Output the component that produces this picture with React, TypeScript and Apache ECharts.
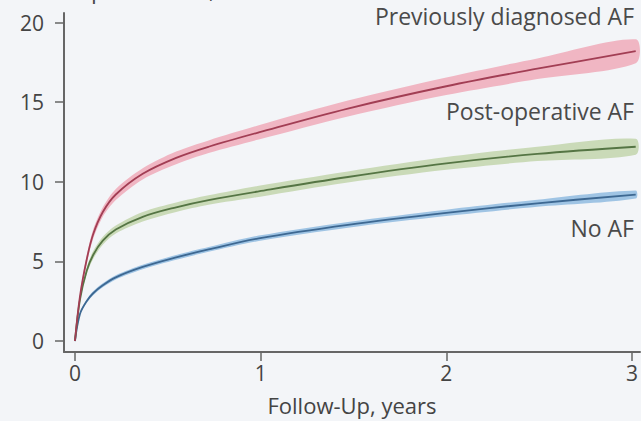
import React, { useEffect, useRef } from 'react';
import * as echarts from 'echarts';

const years = [0, 0.027, 0.063, 0.098, 0.15, 0.22, 0.365, 0.545, 0.72, 0.99, 1.47, 2.0, 2.49, 3.02];

const prevAF = [0, 2.8, 5.1, 6.7, 8.1, 9.2, 10.5, 11.5, 12.2, 13.1, 14.6, 16.0, 17.1, 18.2];
const prevAFHalf = [0, 0.15, 0.25, 0.3, 0.3, 0.35, 0.35, 0.4, 0.4, 0.45, 0.5, 0.55, 0.65, 0.75];

const postAF = [0, 2.6, 4.4, 5.4, 6.3, 7.0, 7.8, 8.4, 8.85, 9.4, 10.3, 11.15, 11.75, 12.2];
const postAFHalf = [0, 0.1, 0.2, 0.25, 0.25, 0.25, 0.3, 0.3, 0.3, 0.35, 0.35, 0.4, 0.45, 0.5];

const noAF = [0, 1.7, 2.5, 3.0, 3.5, 4.0, 4.65, 5.25, 5.75, 6.45, 7.3, 8.05, 8.65, 9.2];
const noAFHalf = [0, 0.05, 0.1, 0.12, 0.12, 0.13, 0.14, 0.15, 0.15, 0.17, 0.18, 0.2, 0.22, 0.25];

const xTicks = [0, 1, 2, 3];
const yTicks = [0, 5, 10, 15, 20];

const seriesLabels = ['Previously diagnosed AF', 'Post-operative AF', 'No AF'];
const yAxisTitle = 'Heart Failure Hospitalization, %';
const xAxisTitle = 'Follow-Up, years';

function bandSeries(vals: number[], half: number[], fill: string) {
  return {
    type: 'custom',
    silent: true,
    clip: false,
    data: [[0, 0]],
    renderItem: (_params: any, api: any) => {
      const upper = years.map((t, i) => api.coord([t, vals[i] + half[i]]));
      const lower = years.map((t, i) => api.coord([t, vals[i] - half[i]])).reverse();
      return {
        type: 'polygon',
        shape: { points: upper.concat(lower), smooth: 0.3 },
        style: { fill },
      };
    },
  };
}

function lineSeries(vals: number[], color: string) {
  return {
    type: 'line',
    smooth: 0.35,
    symbol: 'none',
    silent: true,
    data: years.map((t, i) => [t, vals[i]]),
    lineStyle: { color, width: 1.8 },
  };
}

export default function App() {
  const ref = useRef<HTMLDivElement>(null);
  useEffect(() => {
    document.body.style.margin = '0';
    const chart = echarts.init(ref.current!, null, { renderer: 'svg' });
    const font = '"Open Sans", Lato, sans-serif';
    const labelStyle = (y: number, text: string, align: string, vAlign: string, x = 634) => ({
      type: 'text',
      x,
      y,
      style: { text, textAlign: align, textVerticalAlign: vAlign, font: '23px ' + font, fill: '#4a4a4a' },
    });
    chart.setOption({
      animation: false,
      backgroundColor: '#f3f5f8',
      grid: { left: 64, right: -3, top: 13, bottom: 69, containLabel: false },
      xAxis: {
        type: 'value',
        min: -0.059,
        max: 3.043,
        name: xAxisTitle,
        nameLocation: 'middle',
        nameGap: 42,
        nameTextStyle: { fontSize: 22, color: '#444', fontFamily: font },
        splitLine: { show: false },
        axisLine: { show: true, onZero: false, lineStyle: { color: '#666', width: 2 } },
        axisTick: { show: true, length: 9, customValues: xTicks, lineStyle: { color: '#666', width: 1.5 } },
        axisLabel: { customValues: xTicks, fontSize: 21, color: '#444', fontFamily: font, margin: 10, formatter: (v: number) => String(v) },
      },
      yAxis: {
        type: 'value',
        min: -0.69,
        max: 20.6,
        splitLine: { show: false },
        axisLine: { show: true, onZero: false, lineStyle: { color: '#666', width: 2 } },
        axisTick: { show: true, length: 9, customValues: yTicks, lineStyle: { color: '#666', width: 1.5 } },
        axisLabel: { customValues: yTicks, fontSize: 21, color: '#444', fontFamily: font, margin: 20, formatter: (v: number) => String(v) },
      },
      series: [
        bandSeries(noAF, noAFHalf, '#9fc4e4'),
        bandSeries(postAF, postAFHalf, '#cadab8'),
        bandSeries(prevAF, prevAFHalf, '#f0b6c3'),
        lineSeries(noAF, '#3d6892'),
        lineSeries(postAF, '#557544'),
        lineSeries(prevAF, '#a23e54'),
      ],
      graphic: [
        labelStyle(4, seriesLabels[0], 'right', 'top'),
        labelStyle(99, seriesLabels[1], 'right', 'top'),
        labelStyle(216, seriesLabels[2], 'right', 'top'),
        labelStyle(0, yAxisTitle, 'right', 'bottom', 240),
      ],
    });
    return () => chart.dispose();
  }, []);
  return <div ref={ref} style={{ width: 641, height: 421, position: 'absolute', left: 0, top: 0 }} />;
}
